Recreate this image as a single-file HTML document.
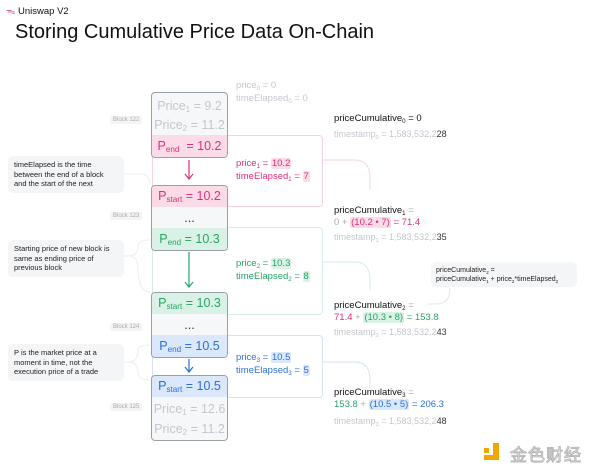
<!DOCTYPE html>
<html><head><meta charset="utf-8"><style>
body{margin:0;width:600px;height:471px;background:#fff;position:relative;overflow:hidden;font-family:"Liberation Sans","Noto Sans CJK SC",sans-serif}
.a{position:absolute;white-space:nowrap}
.box{position:absolute;left:151px;width:75px;height:64px;border:1.5px solid #9aa0a8;border-radius:4px;background:#f6f7f9;overflow:hidden}
.row{position:absolute;left:0;width:75px;text-align:center;font-size:12.5px;line-height:20px}
.gr{color:#c3c7cd}
.pk{background:#fbdbe8;color:#e0307a}
.gn{background:#daf2e6;color:#27a566}
.bl{background:#dbe8fb;color:#2d6fd8}
.panel{position:absolute;left:152px;width:169px;border:1px solid;border-radius:4px}
.pt{font-size:9.5px;line-height:13px}
.hl{border-radius:2px;padding:0 1px}
.lbl{position:absolute;left:110px;font-size:6px;color:#aaa;background:#f4f4f5;padding:1px 3px;border-radius:2px}
.note{position:absolute;left:8px;width:104px;background:#f4f5f7;border-radius:5px;padding:4px 6px;font-size:7.5px;line-height:9.5px;color:#222}
.rt{font-size:9.5px;line-height:12px;color:#111}
.ts{font-size:9px;line-height:11px;color:#c3c7cd}
.ts b{color:#333;font-weight:normal}
sub{font-size:65%;vertical-align:-2px;line-height:0}
</style></head><body>
<div class="a" style="left:6px;top:4px;font-size:9.5px;color:#111"><span style="color:#e04fa0">ᯓ</span> Uniswap V2</div>
<div class="a" style="left:15px;top:21px;font-size:20px;color:#111">Storing Cumulative Price Data On-Chain</div>

<div class="panel" style="top:135px;height:70px;border-color:#f6d3e2"></div>
<div class="panel" style="top:227px;height:86px;border-color:#d5eee2"></div>
<div class="panel" style="top:335px;height:61px;border-color:#d6e3f6"></div>

<svg class="a" style="left:0;top:0" width="600" height="471">
<g fill="none" stroke-width="1">
<path d="M322 160 H355 Q370 160 370 178 V190" stroke="#f6d3e2"/>
<path d="M322 262 H355 Q370 262 370 280 V290" stroke="#d5eee2"/>
<path d="M322 362 H355 Q370 362 370 380 V388" stroke="#d6e3f6"/>
<path d="M450 288 Q450 304 436 304 H428" stroke="#e4e6ea"/>
<path d="M120 174 H140 Q150 174 150 184" stroke="#eee"/>
<path d="M120 256 H128 Q138 256 138 246 Q138 240 150 240 M128 256 Q138 256 138 268 Q138 292 150 292" stroke="#eee"/>
<path d="M120 362 H128 Q138 362 138 350 Q138 345 150 345 M128 362 Q138 362 138 372 Q138 380 150 380" stroke="#eee"/>
<path d="M189 160 V178 M185 174 L189 179 L193 174" stroke="#e0307a" stroke-width="1.2"/>
<path d="M189 252 V286 M185 282 L189 287 L193 282" stroke="#27a566" stroke-width="1.2"/>
<path d="M189 359 V371 M185 367 L189 372 L193 367" stroke="#2d6fd8" stroke-width="1.2"/>
</g></svg>

<div class="box" style="top:92px">
<div class="row gr" style="top:3px">Price<sub>1</sub> = 9.2</div>
<div class="row gr" style="top:22px">Price<sub>2</sub> = 11.2</div>
<div class="row pk" style="top:42px;height:22px;line-height:22px">P<sub>end</sub> &nbsp;= 10.2</div></div>
<div class="box" style="top:185px">
<div class="row pk" style="top:0;height:21px;line-height:21px">P<sub>start</sub> = 10.2</div>
<div class="row" style="top:22px;color:#333">...</div>
<div class="row gn" style="top:42px;height:22px;line-height:22px">P<sub>end</sub> = 10.3</div></div>
<div class="box" style="top:292px">
<div class="row gn" style="top:0;height:21px;line-height:21px">P<sub>start</sub> = 10.3</div>
<div class="row" style="top:22px;color:#333">...</div>
<div class="row bl" style="top:42px;height:22px;line-height:22px">P<sub>end</sub> = 10.5</div></div>
<div class="box" style="top:375px">
<div class="row bl" style="top:0;height:21px;line-height:21px">P<sub>start</sub> = 10.5</div>
<div class="row gr" style="top:23px">Price<sub>1</sub> = 12.6</div>
<div class="row gr" style="top:43px">Price<sub>2</sub> = 11.2</div></div>

<div class="lbl" style="top:116px">Block 122</div>
<div class="lbl" style="top:212px">Block 123</div>
<div class="lbl" style="top:323px">Block 124</div>
<div class="lbl" style="top:403px">Block 125</div>

<div class="a pt" style="left:236px;top:79px;color:#c3c7cd">price<sub>0</sub> = 0<br>timeElapsed<sub>0</sub> = 0</div>
<div class="a pt" style="left:236px;top:157px;color:#e0307a">price<sub>1</sub> = <span class="hl" style="background:#fbdbe8">10.2</span><br>timeElapsed<sub>1</sub> = <span class="hl" style="background:#fbdbe8">7</span></div>
<div class="a pt" style="left:236px;top:257px;color:#27a566">price<sub>2</sub> = <span class="hl" style="background:#daf2e6">10.3</span><br>timeElapsed<sub>2</sub> = <span class="hl" style="background:#daf2e6">8</span></div>
<div class="a pt" style="left:236px;top:351px;color:#2d6fd8">price<sub>3</sub> = <span class="hl" style="background:#dbe8fb">10.5</span><br>timeElapsed<sub>3</sub> = <span class="hl" style="background:#dbe8fb">5</span></div>

<div class="note" style="top:156px">timeElapsed is the time between the end of a block and the start of the next</div>
<div class="note" style="top:240px">Starting price of new block is same as ending price of previous block</div>
<div class="note" style="top:344px">P is the market price at a moment in time, not the execution price of a trade</div>
<div class="a" style="left:431px;top:262px;width:146px;height:25px;background:#f4f5f7;border-radius:5px;font-size:7px;line-height:9px;padding:4px 5px;box-sizing:border-box;color:#222">priceCumulative<sub>2</sub> =<br>priceCumulative<sub>1</sub> + price<sub>2</sub>*timeElapsed<sub>2</sub></div>

<div class="a rt" style="left:334px;top:113px">priceCumulative<sub>0</sub> = 0</div>
<div class="a ts" style="left:334px;top:129px">timestamp<sub>0</sub> = 1,583,532,2<b>28</b></div>
<div class="a rt" style="left:334px;top:205px">priceCumulative<sub>1</sub> <span style="color:#aaa">=</span><br><span style="color:#aaa">0 +</span> <span style="color:#e0307a"><span class="hl" style="background:#fbdbe8">(10.2 • 7)</span> = 71.4</span></div>
<div class="a ts" style="left:334px;top:232px">timestamp<sub>1</sub> = 1,583,532,2<b>35</b></div>
<div class="a rt" style="left:334px;top:300px">priceCumulative<sub>2</sub> <span style="color:#aaa">=</span><br><span style="color:#e0307a">71.4</span> <span style="color:#aaa">+</span> <span style="color:#27a566"><span class="hl" style="background:#daf2e6">(10.3 • 8)</span> = 153.8</span></div>
<div class="a ts" style="left:334px;top:327px">timestamp<sub>2</sub> = 1,583,532,2<b>43</b></div>
<div class="a rt" style="left:334px;top:387px">priceCumulative<sub>3</sub> <span style="color:#aaa">=</span><br><span style="color:#27a566">153.8</span> <span style="color:#aaa">+</span> <span style="color:#2d6fd8"><span class="hl" style="background:#dbe8fb">(10.5 • 5)</span> = 206.3</span></div>
<div class="a ts" style="left:334px;top:416px">timestamp<sub>3</sub> = 1,583,532,2<b>48</b></div>

<div class="a" style="left:484px;top:443px;width:20px;height:17px">
<div class="a" style="left:0;top:5px;width:5px;height:5px;background:#f0a800"></div>
<div class="a" style="left:9px;top:0;width:6px;height:17px;background:#f0a800"></div>
<div class="a" style="left:0;top:12px;width:15px;height:5px;background:#f0a800"></div></div>
<div class="a" style="left:510px;top:441px;font-size:17px;color:#fff;-webkit-text-stroke:1px #b8b8b8;letter-spacing:1px">金色财经</div>
</body></html>
